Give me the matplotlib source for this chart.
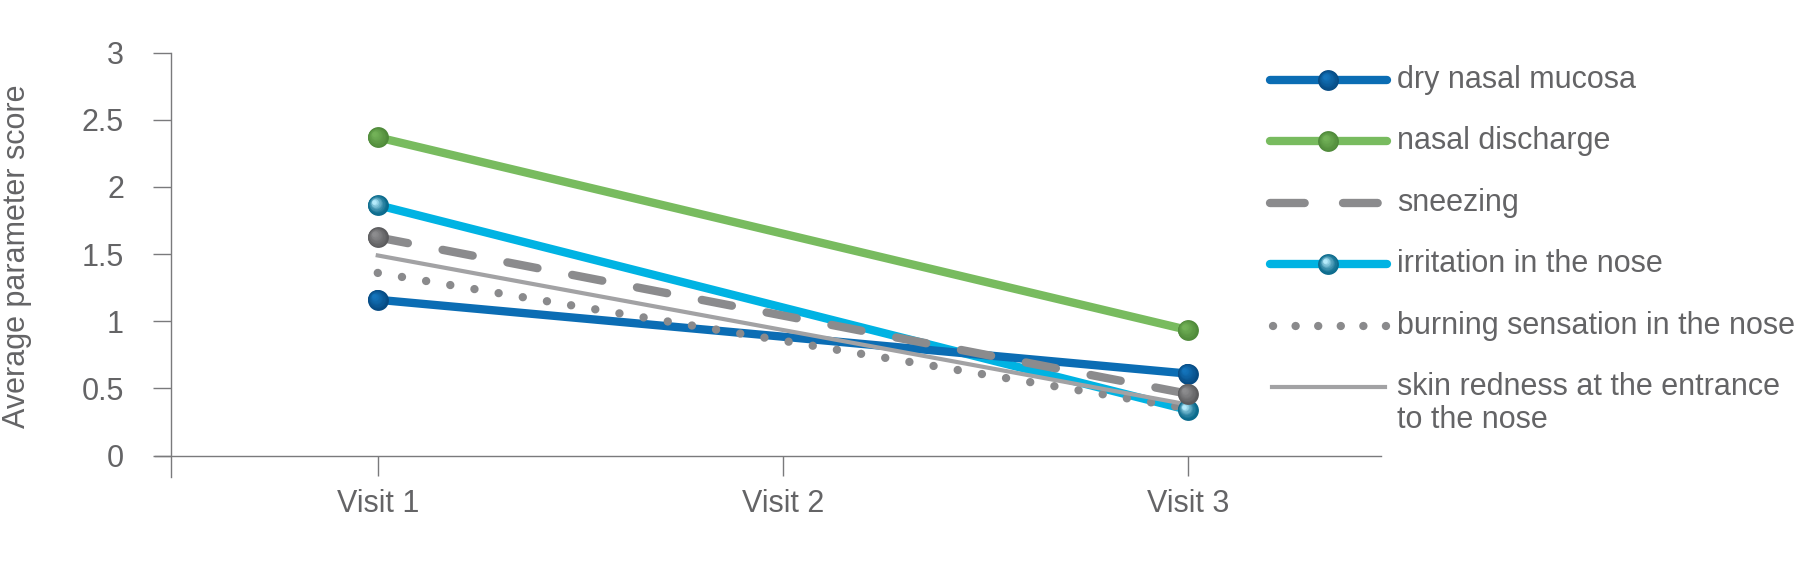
import numpy as np
import matplotlib
matplotlib.use('Agg')
import matplotlib.pyplot as plt
from matplotlib.colors import to_rgb
from matplotlib.transforms import offset_copy

plt.rcParams['font.family'] = ['Liberation Sans', 'DejaVu Sans']

# datos (visita 1 y visita 3)
visits = ['Visit 1', 'Visit 2', 'Visit 3']
measured = [0, 2]
dry_mucosa = [1.16, 0.61]
discharge = [2.37, 0.935]
sneezing = [1.625, 0.46]
irritation = [1.865, 0.34]
burning = [1.36, 0.35]
skin_redness = [1.49, 0.38]
labels = ['dry nasal mucosa', 'nasal discharge', 'sneezing',
          'irritation in the nose', 'burning sensation in the nose',
          'skin redness at the entrance\nto the nose']
yticks = [0, 0.5, 1, 1.5, 2, 2.5, 3]
ytick_labels = ['0', '0.5', '1', '1.5', '2', '2.5', '3']

TXT = '#646466'
AXC = '#7a7a7c'
W, H = 1815, 580

fig = plt.figure(figsize=(W / 100, H / 100), dpi=100)
ax = fig.add_axes([155 / W, 103 / H, 1226 / W, 424.3 / H])


def esfera(axe, xs, ys, dark, light, size=15, z=10, trans=None, gam=1.0):
    # capas concentricas desplazadas para simular el brillo de la bola
    if trans is None:
        trans = axe.transData
    d = np.array(to_rgb(dark))
    l = np.array(to_rgb(light))
    n = 10
    for k in range(n):
        t = k / (n - 1)
        s = size * (1 - 0.78 * t)
        off = 0.32 * t * size / 2
        tr = offset_copy(trans, fig=fig, x=-off, y=off, units='points')
        c = d + (l - d) * t ** gam
        axe.plot(xs, ys, 'o', ms=s, color=tuple(c), mec='none',
                 transform=tr, zorder=z, clip_on=False)


x = np.array(measured)
ax.plot(x, irritation, color='#00b3e3', lw=6, solid_capstyle='round', zorder=2)
ax.plot(x, dry_mucosa, color='#0b6db4', lw=6, solid_capstyle='round', zorder=3)
ax.plot(x, discharge, color='#78bb5f', lw=6, solid_capstyle='round', zorder=3)
ax.plot(x, sneezing, color='#8b8b8d', lw=6, dashes=(3.68, 4.24),
        dash_capstyle='round', zorder=4)
ax.plot(x, burning, color='#8a8a8c', lw=6, dashes=(0.01, 2.93),
        dash_capstyle='round', zorder=5)
ax.plot(x, skin_redness, color='#a2a2a4', lw=3, zorder=6)

esfera(ax, x, irritation, '#0a6a8c', '#b5ebfb', z=7, gam=1.6)
esfera(ax, x, dry_mucosa, '#064a82', '#1474bb', z=8)
esfera(ax, x, discharge, '#4f8a3a', '#72b157', z=8)
esfera(ax, x, sneezing, '#5b5b5d', '#8c8c8e', z=8)

ax.set_xlim(-0.55, 2.477)
ax.set_ylim(-0.16, 3)
ax.spines['left'].set_position(('data', -0.51))
ax.spines['bottom'].set_position(('data', 0))
ax.spines[['top', 'right']].set_visible(False)
for s in ['left', 'bottom']:
    ax.spines[s].set_color(AXC)
    ax.spines[s].set_linewidth(1.0)

ax.set_xticks(range(len(visits)))
ax.set_xticklabels(visits)
ax.set_yticks(yticks)
ax.set_yticklabels(ytick_labels)
ax.tick_params(axis='y', length=13, width=1.0, pad=21, color=AXC,
               labelcolor=TXT, labelsize=22)
ax.tick_params(axis='x', length=14.4, width=1.0, pad=10, color=AXC,
               labelcolor=TXT, labelsize=22)
ax.set_ylabel('Average parameter score', fontsize=22, color=TXT)
ax.yaxis.set_label_coords(-0.1003, 0.521)

# leyenda dibujada a mano en coordenadas de pixel
lax = fig.add_axes([0, 0, 1, 1])
lax.set_xlim(0, W)
lax.set_ylim(H, 0)
lax.axis('off')
rows = 80 + 61.4 * np.arange(len(labels))
x0, x1, xt = 1270, 1387, 1397
xm = (x0 + x1) / 2

lax.plot([x0, x1], [rows[0]] * 2, color='#0b6db4', lw=6, solid_capstyle='round')
esfera(lax, [xm], [rows[0]], '#064a82', '#1474bb')
lax.plot([x0, x1], [rows[1]] * 2, color='#78bb5f', lw=6, solid_capstyle='round')
esfera(lax, [xm], [rows[1]], '#4f8a3a', '#72b157')
lax.plot([x0, x1], [rows[2]] * 2, color='#8b8b8d', lw=6, dashes=(4.16, 4.6),
         dash_capstyle='round')
lax.plot([x0, x1], [rows[3]] * 2, color='#00b3e3', lw=6, solid_capstyle='round')
esfera(lax, [xm], [rows[3]], '#0a6a8c', '#b5ebfb', gam=1.6)
lax.plot([x0 + 3, x1], [rows[4]] * 2, color='#8a8a8c', lw=6, dashes=(0.01, 2.7),
         dash_capstyle='round')
lax.plot([x0 + 2, x1 - 2], [rows[5]] * 2, color='#a2a2a4', lw=3)

# la línea base de la última fila del texto queda abajo
LINE = 33
for r, lab in zip(rows, labels):
    extra = LINE * lab.count('\n')
    lax.text(xt, r + 8 + extra, lab, fontsize=22, color=TXT, va='baseline',
             ha='left', linespacing=1.12)

fig.savefig('out.png', dpi=100, facecolor='white')
